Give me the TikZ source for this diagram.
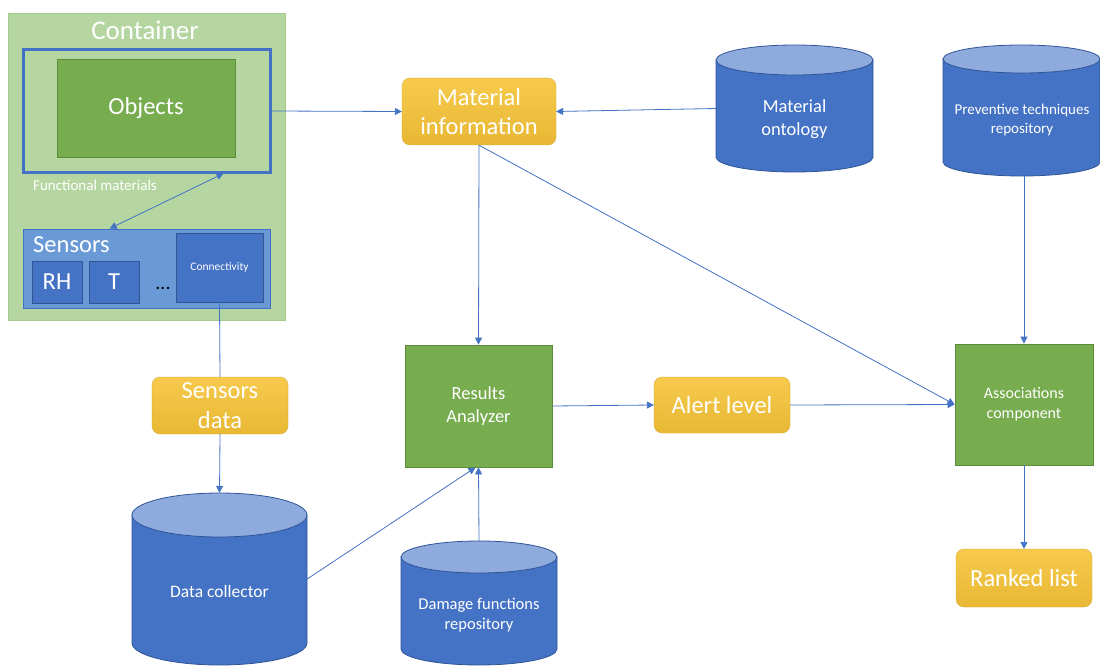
\documentclass[tikz,border=0pt]{standalone}
\usepackage{fontspec}
\setmainfont{Carlito}
\usetikzlibrary{arrows.meta,calc}
\definecolor{cgreen}{HTML}{B6D6A1}
\definecolor{cgreenb}{HTML}{A5CB8C}
\definecolor{ggreen}{HTML}{77AC4F}
\definecolor{ggreenb}{HTML}{5B8C3C}
\definecolor{cblue}{HTML}{4472C4}
\definecolor{cblueb}{HTML}{2F5597}
\definecolor{ctop}{HTML}{8FAADC}
\definecolor{sblue}{HTML}{6A9AD6}
\definecolor{ytop}{HTML}{F7CA4D}
\definecolor{ybot}{HTML}{E8B834}
\newcommand\fbig{\fontsize{24.5}{29.5}\selectfont}
\newcommand\fmid{\fontsize{18.5}{23.5}\selectfont}
\newcommand{\drawcyl}[5]{%
  \pgfmathsetmacro\cxr{(#3-#1)/2}%
  \pgfmathsetmacro\cxc{(#3+#1)/2}%
  \filldraw[cylbody] (#1,#2+#5) -- (#1,#4-#5) arc[start angle=180,end angle=360,x radius=\cxr pt,y radius=#5 pt] -- (#3,#2+#5) -- cycle;
  \filldraw[cyltop] (\cxc,#2+#5) ellipse[x radius=\cxr pt, y radius=#5 pt];
}
\tikzset{
  cylbody/.style={fill=cblue, draw=cblueb, line width=0.8pt},
  cyltop/.style={fill=ctop, draw=cblueb, line width=0.8pt},
  box/.style={rectangle, inner sep=0pt, anchor=center},
  ybox/.style={box, rounded corners=8pt, top color=ytop, bottom color=ybot, draw=ybot!90!black, line width=0.3pt, text=white, align=center, font=\fbig},
  gbox/.style={box, fill=ggreen, draw=ggreenb, line width=0.8pt, text=white, align=center},
  wtext/.style={text=white, align=center, inner sep=0pt},
  conn/.style={draw=cblue, line width=0.8pt},
  arr/.style={conn, -{Triangle[width=7pt,length=7pt]}},
  darr/.style={conn, {Triangle[width=7pt,length=7pt]}-{Triangle[width=7pt,length=7pt]}},
}
\begin{document}
\begin{tikzpicture}[x=1pt,y=-1pt]
\useasboundingbox (0,0) rectangle (1100,666);
\fill[white] (0,0) rectangle (1100,666);
% Container
\node[box, fill=cgreen, draw=cgreenb, line width=0.8pt, minimum width=277pt, minimum height=307pt] (cont) at (146.5,166.5) {};
\node[wtext, font=\fontsize{27}{32}\selectfont] (contt) at (145,30) {Container};
\node[box, fill=cgreen, draw=cblue, line width=3pt, minimum width=247pt, minimum height=122pt] (fm) at (146.5,111) {};
\node[box, fill=ggreen, draw=ggreenb, line width=0.8pt, minimum width=178pt, minimum height=98pt, text=white, font=\fbig] (obj) at (146,108) {Objects};
\node[wtext, anchor=west, font=\fontsize{15}{18}\selectfont] (fmt) at (33,185) {Functional materials};
% Sensors
\node[box, fill=sblue, draw=cblue, line width=0.8pt, minimum width=247pt, minimum height=79pt] (sens) at (146.5,268.5) {};
\node[wtext, anchor=west, font=\fbig] (senst) at (33,245) {Sensors};
\node[box, fill=cblue, draw=cblueb, line width=0.8pt, minimum width=50pt, minimum height=42pt, text=white, font=\fbig] (rh) at (57,282) {RH};
\node[box, fill=cblue, draw=cblueb, line width=0.8pt, minimum width=50pt, minimum height=42pt, text=white, font=\fbig] (t) at (114,282) {T};
\node[inner sep=0pt, font=\fontsize{20}{24}\selectfont] (dots) at (163,288) {...};
\node[box, fill=cblue, draw=cblueb, line width=0.8pt, minimum width=87pt, minimum height=69pt, text=white, font=\fontsize{11.5}{14}\selectfont] (conny) at (219.5,267.5) {Connectivity};
% yellow boxes
\node[ybox, minimum width=154pt, minimum height=67pt] (mat) at (479,111.5) {Material\\information};
\node[ybox, minimum width=136pt, minimum height=57pt] (sd) at (220,405.5) {Sensors\\data};
\node[ybox, minimum width=136pt, minimum height=56pt] (alert) at (722,405) {Alert level};
\node[ybox, minimum width=136pt, minimum height=58pt] (rank) at (1024,578) {Ranked list};
% green boxes
\node[gbox, minimum width=147pt, minimum height=122pt, font=\fmid] (res) at (478.5,406) {Results\\Analyzer};
\node[gbox, minimum width=138pt, minimum height=121pt, font=\fontsize{16}{19.5}\selectfont] (assoc) at (1024,404.5) {Associations\\component};
% cylinders
\drawcyl{716}{45}{873}{172}{15}
\node[box, minimum width=157pt, minimum height=127pt] (ont) at (794.5,108.5) {};
\node[wtext, font=\fmid] (ontt) at (794.5,119) {Material\\ontology};
\drawcyl{943}{45}{1100}{176}{14}
\node[box, minimum width=157pt, minimum height=131pt] (prev) at (1021.5,110.5) {};
\node[wtext, font=\fontsize{15}{19.5}\selectfont] (prevt) at (1022,120) {Preventive techniques\\repository};
\drawcyl{132}{493}{307}{665}{22}
\node[box, minimum width=175pt, minimum height=172pt] (dc) at (219.5,579) {};
\node[wtext, font=\fontsize{17.5}{21}\selectfont] (dct) at (219.5,591) {Data collector};
\drawcyl{401}{541}{557}{665}{16}
\node[box, minimum width=156pt, minimum height=124pt] (dmg) at (479,603) {};
\node[wtext, font=\fontsize{16.5}{20}\selectfont] (dmgt) at (479,615) {Damage functions\\repository};
% connectors
\coordinate (fmb) at ($(fm.south east)+(-48,0)$);
\coordinate (senstop) at ($(sens.north west)+(87,0)$);
\draw[darr] (fmb) -- (senstop);
\draw[arr] (fm.east) -- (mat.west);
\draw[arr] (ont.west) -- (mat.east);
\draw[arr] (mat.south) -- (res.north);
\draw[arr] (mat.south) -- (assoc.west);
\draw[conn] (conny.south) -- (sd.north);
\draw[arr] (sd.south) -- (dc.north);
\draw[arr] (res.east) -- (alert.west);
\draw[arr] (alert.east) -- (assoc.west);
\draw[arr] (prev.south -| assoc.north) -- (assoc.north);
\draw[arr] (assoc.south) -- (rank.north);
\draw[arr] (dc.east) -- ($(res.south)+(-3,0)$);
\draw[arr] (dmg.north) -- (res.south);
\end{tikzpicture}
\end{document}
